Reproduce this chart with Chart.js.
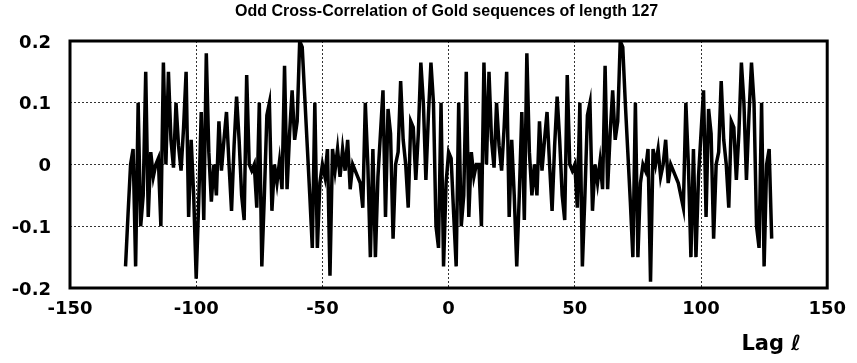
<!DOCTYPE html>
<html>
<head>
<meta charset="utf-8">
<script src="https://cdn.jsdelivr.net/npm/chart.js@4.4.1/dist/chart.umd.min.js"></script>
<style>
  html, body { margin: 0; padding: 0; background: #fff; }
  #wrap { width: 857px; height: 363px; position: relative; }
</style>
</head>
<body>
<div id="wrap"><canvas id="corrChart"></canvas></div>
<script>
// Titre et axes
const chartTitle = 'Odd Cross-Correlation of Gold sequences of length 127';
const axisLabel = 'Lag \u2113';
const xTicks = [-150, -100, -50, 0, 50, 100, 150];
const yTicks = [-0.2, -0.1, 0, 0.1, 0.2];

// Décalages l = -128 ... 128
const firstLag = -128;
const lastLag = 128;

// Corrélation croisée impaire, un point par décalage
const corr = [
  -0.165, -0.08, 0.0, 0.025, -0.165, 0.1, -0.1, -0.05, 0.15, -0.085, 0.02, -0.02, 0.0, 0.01, -0.1, 0.165,
  0.0, 0.15, 0.04, -0.005, 0.1, 0.03, -0.01, 0.06, 0.15, -0.085, 0.04, -0.05, -0.185, -0.06, 0.085, -0.09,
  0.18, 0.02, -0.06, 0.0, -0.05, 0.07, -0.01, 0.04, 0.085, 0.0, -0.075, 0.03, 0.11, 0.04, -0.05, -0.09,
  0.145, 0.0, -0.01, 0.0, -0.07, 0.1, -0.165, -0.05, 0.08, 0.1, -0.075, 0.0, -0.03, 0.005, -0.04, 0.16,
  -0.04, 0.05, 0.12, 0.04, 0.07, 0.2, 0.19, 0.11, 0.03, -0.05, -0.135, 0.1, -0.135, -0.03, 0.0, -0.02,
  0.025, -0.18, 0.025, -0.01, 0.025, -0.02, 0.025, -0.01, 0.04, -0.04, 0.0, -0.01, -0.02, -0.03, -0.07, 0.1,
  0.0, -0.15, 0.025, -0.15, -0.02, 0.05, 0.12, -0.085, 0.09, 0.05, -0.12, 0.0, 0.02, 0.135, 0.04, 0.0,
  -0.07, 0.07, 0.06, -0.025, 0.05, 0.165, 0.1, -0.025, 0.08, 0.165, 0.1, -0.1, -0.135, 0.1, -0.165, -0.03,
  0.02,
  0.01, -0.08, -0.165, 0.1, -0.1, -0.05, 0.15, -0.085, 0.02, -0.02, 0.0, 0.0, -0.1, 0.165, 0.0, 0.15,
  0.04, -0.005, 0.1, 0.03, -0.01, 0.06, 0.15, -0.085, 0.04, -0.05, -0.165, -0.05, 0.085, -0.09, 0.18, 0.02,
  -0.05, 0.0, -0.05, 0.07, -0.01, 0.04, 0.085, 0.0, -0.075, 0.03, 0.11, 0.04, -0.05, -0.09, 0.145, 0.0,
  -0.01, 0.0, -0.07, 0.1, -0.165, -0.05, 0.08, 0.1, -0.075, 0.0, -0.03, 0.005, -0.04, 0.16, -0.04, 0.05,
  0.12, 0.04, 0.07, 0.2, 0.19, 0.1, 0.02, -0.06, -0.15, 0.1, -0.15, -0.03, 0.0, -0.01, 0.025, -0.19,
  0.025, 0.0, 0.025, -0.02, 0.0, 0.04, -0.03, 0.0, -0.01, -0.02, -0.03, -0.05, -0.07, 0.1, 0.0, -0.15,
  0.025, -0.15, -0.02, 0.05, 0.12, -0.085, 0.09, 0.05, -0.12, 0.0, 0.02, 0.135, 0.04, 0.0, -0.07, 0.07,
  0.06, -0.025, 0.05, 0.165, 0.1, -0.025, 0.08, 0.165, 0.1, -0.1, -0.135, 0.1, -0.165, 0.0, 0.025, -0.12
];

const lags = [];
for (let l = firstLag; l <= lastLag; l++) lags.push(l);
const points = lags.map((l, i) => ({ x: l, y: corr[i] }));

const tickFont = { family: '"DejaVu Sans"', size: 18, weight: 'bold' };

// Cadre noir autour de la zone de tracé + titre + étiquette de l'axe
const framePlugin = {
  id: 'frame',
  afterDraw(chart) {
    const { ctx, chartArea: a } = chart;
    ctx.save();
    ctx.strokeStyle = '#000';
    ctx.lineWidth = 3;
    ctx.strokeRect(a.left, a.top, a.right - a.left, a.bottom - a.top);

    ctx.fillStyle = '#000';
    ctx.textBaseline = 'middle';
    ctx.textAlign = 'center';
    ctx.font = 'bold 16px "Liberation Sans", sans-serif';
    ctx.fillText(chartTitle, (a.left + a.right) / 2 - 2, 12);

    ctx.textAlign = 'right';
    ctx.font = 'bold 21px "DejaVu Sans"';
    ctx.fillText(axisLabel, a.right - 26, a.bottom + 57);
    ctx.restore();
  }
};

// Grille pointillée
const gridOpts = { color: '#333', lineWidth: 1, drawTicks: false };
const borderOpts = { display: false, dash: [2, 2] };

new Chart(document.getElementById('corrChart'), {
  type: 'line',
  data: {
    datasets: [{
      data: points,
      borderColor: '#000',
      borderWidth: 3.5,
      pointRadius: 0,
      tension: 0,
      fill: false
    }]
  },
  options: {
    responsive: true,
    maintainAspectRatio: false,
    animation: false,
    layout: { padding: { top: 41, right: 29, left: 0, bottom: 0 } },
    plugins: {
      legend: { display: false },
      title: { display: false },
      tooltip: { enabled: false }
    },
    scales: {
      x: {
        type: 'linear',
        min: -150,
        max: 150,
        afterBuildTicks: s => { s.ticks = xTicks.map(v => ({ value: v })); },
        afterFit: s => { s.height = 75; },
        grid: gridOpts,
        border: borderOpts,
        ticks: { color: '#000', font: tickFont, padding: 11, maxRotation: 0 }
      },
      y: {
        type: 'linear',
        min: -0.2,
        max: 0.2,
        afterBuildTicks: s => { s.ticks = yTicks.map(v => ({ value: v })); },
        afterFit: s => { s.width = 70; },
        grid: gridOpts,
        border: borderOpts,
        ticks: {
          color: '#000',
          font: tickFont,
          padding: 19,
          labelOffset: 2,
          callback: v => String(+v.toFixed(1))
        }
      }
    }
  },
  plugins: [framePlugin]
});
</script>
</body>
</html>
